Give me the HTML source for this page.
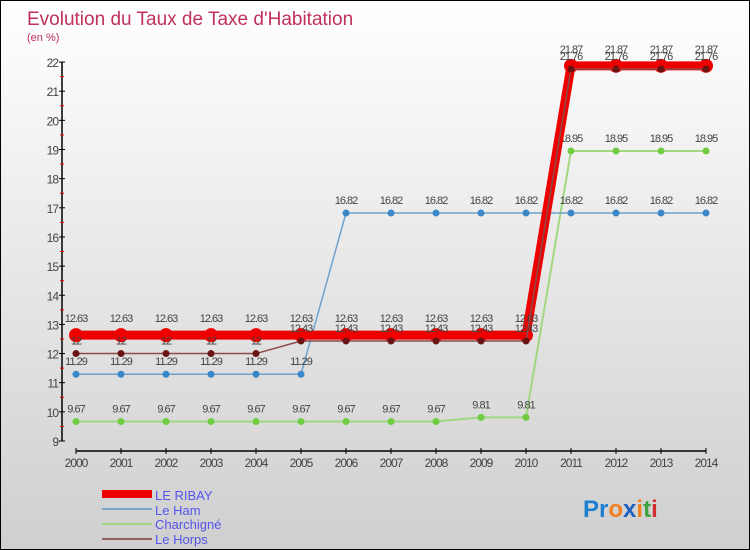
<!DOCTYPE html>
<html><head><meta charset="utf-8"><style>
body{margin:0}
#c{width:750px;height:550px;position:relative;overflow:hidden;box-sizing:border-box;border:1px solid #000;background:linear-gradient(#fff,#cfcfcf);font-family:"Liberation Sans",sans-serif}
svg text{font-family:"Liberation Sans",sans-serif}
</style></head><body>
<div id="c">
<svg id="s" width="750" height="550">
<text x="26" y="24" font-size="19" fill="#c0305a">Evolution du Taux de Taxe d'Habitation</text>
<text x="26" y="40" font-size="11" fill="#c0305a">(en %)</text>
<g id="axes"></g><g id="series"></g>
<g>
<rect x="101" y="489" width="50" height="8" fill="#e00"/>
<text x="154" y="499" font-size="13" fill="#5555ee">LE RIBAY</text>
<line x1="101" y1="508" x2="151" y2="508" stroke="#7aa6c8" stroke-width="2"/>
<text x="154" y="514" font-size="13" fill="#5555ee">Le Ham</text>
<line x1="101" y1="523" x2="151" y2="523" stroke="#9fd880" stroke-width="2"/>
<text x="154" y="528" font-size="13" fill="#5555ee">Charchigné</text>
<line x1="101" y1="538" x2="151" y2="538" stroke="#946060" stroke-width="2"/>
<text x="154" y="543" font-size="13" fill="#5555ee">Le Horps</text>
</g>
<text x="582" y="516" font-size="24" font-weight="bold"><tspan fill="#1e7fd0">Pr</tspan><tspan fill="#f08020">o</tspan><tspan fill="#1e60c0">x</tspan><tspan fill="#f08020">i</tspan><tspan fill="#40a040">t</tspan><tspan fill="#d03030">i</tspan></text>
</svg></div>
<script>
const years=[2000,2001,2002,2003,2004,2005,2006,2007,2008,2009,2010,2011,2012,2013,2014];
const yTicks=[9,10,11,12,13,14,15,16,17,18,19,20,21,22];
const ribay=[12.63,12.63,12.63,12.63,12.63,12.63,12.63,12.63,12.63,12.63,12.63,21.87,21.87,21.87,21.87];
const ham=[11.29,11.29,11.29,11.29,11.29,11.29,16.82,16.82,16.82,16.82,16.82,16.82,16.82,16.82,16.82];
const charchigne=[9.67,9.67,9.67,9.67,9.67,9.67,9.67,9.67,9.67,9.81,9.81,18.95,18.95,18.95,18.95];
const horps=[12,12,12,12,12,12.43,12.43,12.43,12.43,12.43,12.43,21.76,21.76,21.76,21.76];
const NS="http://www.w3.org/2000/svg";
const X=i=>75+i*45, Y=v=>440-(v-9)*29.15;
function mk(p,t,a){const e=document.createElementNS(NS,t);for(const k in a)e.setAttribute(k,a[k]);p.appendChild(e);return e;}
const ax=document.getElementById('axes'),sg=document.getElementById('series');
let e=mk(ax,'line',{x1:61,y1:Y(22),x2:61,y2:440,stroke:'#000','stroke-width':1.5});

e=mk(ax,'line',{x1:75,y1:450,x2:705,y2:450,stroke:'#000','stroke-width':1.5});

yTicks.forEach(v=>{mk(ax,'line',{x1:58,y1:Y(v),x2:64,y2:Y(v),stroke:'#000'});
 if(v<22)mk(ax,'line',{x1:59,y1:Y(v+0.5),x2:63,y2:Y(v+0.5),stroke:'#e00'});
 const t=mk(ax,'text',{x:57,y:Y(v)+5,'font-size':12,fill:'#444','text-anchor':'end','letter-spacing':'-1'});t.textContent=v;
 });
years.forEach((yr,i)=>{mk(ax,'line',{x1:X(i),y1:447,x2:X(i),y2:453,stroke:'#000'});
 const t=mk(ax,'text',{x:X(i),y:466,'font-size':12,fill:'#444','text-anchor':'middle','letter-spacing':'-1'});t.textContent=yr;
 });
function series(d,name,col,w,r,dot){
 const g=mk(sg,'g',{});
 const l=mk(g,'polyline',{points:d.map((v,i)=>X(i)+','+Y(v)).join(' '),fill:'none',stroke:col,'stroke-width':w});
 
 d.forEach((v,i)=>{const c=mk(g,'circle',{cx:X(i),cy:Y(v),r:r,fill:dot});
  
  const t=mk(g,'text',{x:X(i),y:Y(v)-9-(r>5?4:0),'font-size':11,fill:'#444','text-anchor':'middle','letter-spacing':'-1'});
  t.textContent=String(v).replace('.','.');
  });
}
series(charchigne,'charchigne','#9fd880',2,3.5,'#70cc40');
series(ham,'le-ham','#6fa2cc',1.5,3.5,'#3a88c8');
series(ribay,'le-ribay','#e00',9,7,'#e00');
series(horps,'le-horps','#8a4a4a',1.5,3.5,'#6a1414');
</script>
</body></html>
